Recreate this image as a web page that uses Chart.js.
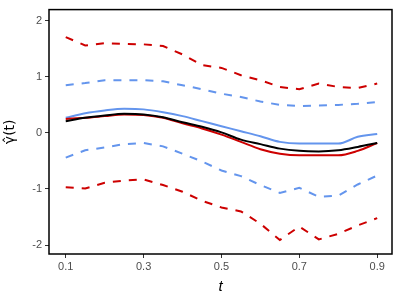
<!DOCTYPE html>
<html>
<head>
<meta charset="utf-8">
<script src="https://cdn.jsdelivr.net/npm/chart.js@4"></script>
<style>
  body { margin: 0; background: #fff; }
  #wrap { width: 400px; height: 300px; }
</style>
</head>
<body>
<div id="wrap"><canvas id="myChart"></canvas></div>
<script>
// grid of t values
const tValues = [0.10, 0.15, 0.20, 0.25, 0.30, 0.35, 0.40, 0.45, 0.50, 0.55, 0.60, 0.65, 0.70, 0.75, 0.80, 0.85, 0.90];

// true curve (black)
const trueCurve = [0.21, 0.27, 0.31, 0.34, 0.33, 0.28, 0.19, 0.11, 0.01, -0.12, -0.20, -0.28, -0.32, -0.33, -0.31, -0.25, -0.18];

// red estimate + band
const redEst   = [0.25, 0.27, 0.30, 0.33, 0.32, 0.27, 0.17, 0.08, -0.03, -0.16, -0.29, -0.37, -0.40, -0.40, -0.40, -0.32, -0.18];
const redUpper = [1.71, 1.56, 1.60, 1.59, 1.58, 1.55, 1.40, 1.21, 1.16, 1.03, 0.94, 0.82, 0.78, 0.88, 0.82, 0.80, 0.88];
const redLower = [-0.97, -0.99, -0.89, -0.85, -0.83, -0.93, -1.05, -1.21, -1.33, -1.40, -1.62, -1.91, -1.67, -1.90, -1.80, -1.65, -1.52];

// blue estimate + band
const blueEst   = [0.27, 0.35, 0.40, 0.43, 0.42, 0.37, 0.30, 0.21, 0.12, 0.03, -0.06, -0.16, -0.19, -0.19, -0.19, -0.07, -0.02];
const blueUpper = [0.85, 0.89, 0.94, 0.94, 0.94, 0.92, 0.85, 0.78, 0.70, 0.64, 0.56, 0.50, 0.48, 0.49, 0.50, 0.52, 0.55];
const blueLower = [-0.44, -0.31, -0.26, -0.20, -0.18, -0.24, -0.37, -0.51, -0.67, -0.77, -0.93, -1.07, -0.98, -1.14, -1.12, -0.92, -0.76];

const xTicks = [0.1, 0.3, 0.5, 0.7, 0.9];
const yTicks = [-2, -1, 0, 1, 2];

const RED = '#CD0000';
const BLUE = '#6495ED';

function pts(ys) {
    return tValues.map((t, i) => ({ x: t, y: ys[i] }));
}

function dashed(label, ys, color) {
    return { label: label, data: pts(ys), borderColor: color, borderWidth: 2,
        borderDash: [8, 8], pointRadius: 0, tension: 0, fill: false, order: 5 };
}
function solid(label, ys, color, order) {
    return { label: label, data: pts(ys), borderColor: color, borderWidth: 2,
        pointRadius: 0, cubicInterpolationMode: 'monotone', fill: false, order: order };
}

//panel border like ggplot
const panelBorder = {
    id: 'panelBorder',
    afterDatasetsDraw(chart) {
        const a = chart.chartArea, ctx = chart.ctx;
        ctx.save();
        ctx.strokeStyle = '#000';
        ctx.lineWidth = 1.5;
        ctx.strokeRect(a.left, a.top, a.right - a.left, a.bottom - a.top);
        ctx.restore();
    }
};

const tickFont = { family: 'Liberation Sans', size: 11 };

const config = {
    type: 'line',
    data: {
        datasets: [
            dashed('red upper', redUpper, RED),
            dashed('red lower', redLower, RED),
            dashed('blue upper', blueUpper, BLUE),
            dashed('blue lower', blueLower, BLUE),
            solid('blue', blueEst, BLUE, 4),
            solid('red', redEst, RED, 3),
            solid('true', trueCurve, '#000', 2)
        ]
    },
    options: {
        responsive: true,
        maintainAspectRatio: false,
        animation: false,
        layout: { padding: { left: 0, top: 7.5, right: 8, bottom: 0 } },
        plugins: { legend: { display: false }, tooltip: { enabled: false } },
        scales: {
            x: {
                type: 'linear',
                min: 0.057, max: 0.938,
                afterBuildTicks: (s) => { s.ticks = xTicks.map(v => ({ value: v })); },
                afterFit: (s) => { s.height = 46; },
                grid: { drawOnChartArea: false, drawTicks: true, tickLength: 4, tickColor: '#333', tickWidth: 1 },
                border: { display: false },
                ticks: { font: tickFont, color: '#4D4D4D', padding: 2, maxRotation: 0,
                    callback: (v) => v.toFixed(1) },
                title: { display: true, text: 't', color: '#000', padding: { top: 0, bottom: 4 },
                    font: { family: 'Liberation Sans', size: 15, style: 'italic' } }
            },
            y: {
                min: -2.16, max: 2.2,
                afterBuildTicks: (s) => { s.ticks = yTicks.map(v => ({ value: v })); },
                afterFit: (s) => { s.width = 49; },
                grid: { drawOnChartArea: false, drawTicks: true, tickLength: 4, tickColor: '#333', tickWidth: 1 },
                border: { display: false },
                ticks: { font: tickFont, color: '#4D4D4D', padding: 3 },
                title: { display: true, text: 'γ\u0302(t)', color: '#000', padding: { top: 2, bottom: 0 },
                    font: { family: 'DejaVu Sans', size: 14 } }
            }
        }
    },
    plugins: [panelBorder]
};

const myChart = new Chart(document.getElementById('myChart'), config);
</script>
</body>
</html>
